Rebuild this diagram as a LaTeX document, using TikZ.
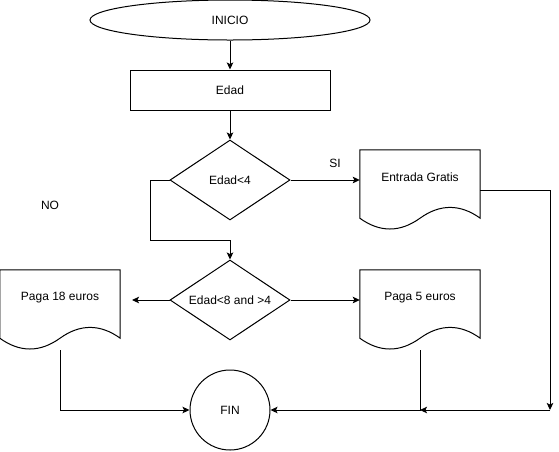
\documentclass[tikz,border=0pt]{standalone}
\usepackage{fontspec}
\setmainfont{Liberation Sans}
\usetikzlibrary{arrows.meta,shapes.geometric}
\tikzset{
  every node/.style={font=\fontsize{12}{14}\selectfont},
  ln/.style={line width=1pt, draw=black},
  arr/.style={ln, -{Stealth[length=7pt,width=6.5pt,inset=1.5pt]}},
  box/.style={ln, rectangle, minimum width=200pt, minimum height=40pt, inner sep=0pt},
  dia/.style={ln, diamond, aspect=1.5, minimum width=120pt, minimum height=80pt, inner sep=0pt},
  docarea/.style={rectangle, minimum width=120pt, minimum height=80pt, inner sep=0pt},
  term/.style={ln, ellipse, minimum width=280pt, minimum height=40pt, inner sep=0pt},
  endc/.style={ln, circle, minimum size=80pt, inner sep=0pt},
  lbl/.style={inner sep=0pt, anchor=center}
}
\newcommand{\docoutline}[1]{%
  \draw[ln] (#1.north west) -- (#1.north east) -- ([yshift=12pt]#1.south east)
    .. controls ([xshift=-20pt,yshift=26.4pt]#1.south east) and ([xshift=20pt,yshift=26.4pt]#1.south) .. ([yshift=12pt]#1.south)
    .. controls ([xshift=-20pt,yshift=-2.4pt]#1.south) and ([xshift=20pt,yshift=-2.4pt]#1.south west) .. ([yshift=12pt]#1.south west)
    -- cycle;}
\begin{document}
\begin{tikzpicture}[x=1pt,y=-1pt]
\useasboundingbox (0,0) rectangle (559,451);
\node[term] (ini) at (230,20) {INICIO};
\node[box] (edad) at (230,90) {Edad};
\node[dia] (d1) at (230,180) {Edad<4};
\node[dia] (d2) at (230,300) {Edad<8 and >4};
\node[docarea] (eg) at (420,190) {};
\node[docarea] (p18) at (60,310) {};
\node[docarea] (p5) at (420,310) {};
\docoutline{eg}
\docoutline{p18}
\docoutline{p5}
\node[lbl] (teg) at ([yshift=-27.5pt]eg.north) {Entrada Gratis};
\node[lbl] (tp18) at ([yshift=-28pt]p18.north) {Paga 18 euros};
\node[lbl] (tp5) at ([yshift=-28pt]p5.north) {Paga 5 euros};
\node[endc] (fin) at (230,410) {FIN};
\node[lbl] (si) at (335,163) {SI};
\node[lbl] (no) at (50,205) {NO};
\coordinate (k1) at (150,240);
\coordinate (c1) at (550,410);
\coordinate (c2) at (420,410);
\coordinate (a18) at (132,300);
\draw[arr] (ini) -- (edad);
\draw[arr] (edad) -- (d1);
\draw[arr] (d1.east) -- (d1.east -| eg.west);
\draw[arr] (d1.west) -| (k1) -| (d2.north);
\draw[arr] (d2.west) -- (a18);
\draw[arr] (d2.east) -- (d2.east -| p5.west);
\draw[arr] (eg.east) -| (c1);
\draw[arr] (c1) -- (c2);
\draw[arr] (p5.south) |- (fin.east);
\draw[arr] (p18.south) |- (fin.west);
\end{tikzpicture}
\end{document}
